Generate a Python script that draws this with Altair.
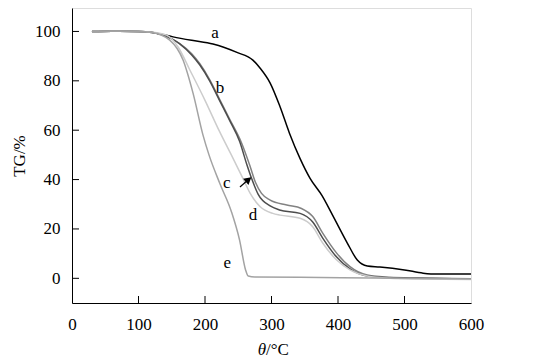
import altair as alt
import pandas as pd

# ---- data ----
a_x = [30, 60, 100, 120, 152, 180, 212, 248, 272, 283, 298, 313, 327, 343, 358, 376, 392, 414, 429, 444, 463, 500, 528, 549, 600]
a_y = [100, 100.1, 100, 99.6, 97.8, 96.4, 94.9, 91.5, 88.4, 85.1, 79.1, 69.4, 58.8, 48.5, 40.5, 33.5, 25.5, 14.3, 7.4, 5.0, 4.6, 3.4, 2.1, 1.7, 1.7]

b_x = [30, 60, 100, 120, 137, 162, 180, 192, 207, 222, 237, 255, 268, 276, 285, 298, 323, 345, 362, 377, 398, 418, 444, 478, 520, 600]
b_y = [100, 100.1, 100, 99.7, 98.5, 95.1, 91.0, 87.0, 80.5, 72.5, 64.5, 54.8, 45.2, 38.8, 34.4, 31.7, 29.7, 28.3, 25.0, 18.3, 10.2, 4.7, 1.3, 0.4, 0.1, -0.2]

c_x = [30, 60, 100, 120, 137, 162, 180, 192, 207, 222, 237, 252, 263, 270, 280, 298, 312, 343, 362, 377, 398, 418, 444, 478, 520, 600]
c_y = [100, 100.1, 100, 99.7, 98.5, 95.0, 90.5, 86.5, 80.0, 72.0, 64.0, 55.5, 46.0, 40.5, 34.0, 29.3, 27.7, 26.3, 22.8, 16.3, 8.6, 3.8, 0.9, 0.2, 0.0, -0.3]

d_x = [30, 60, 100, 120, 142, 160, 177, 200, 222, 242, 257, 268, 283, 302, 313, 343, 362, 377, 398, 418, 444, 478, 520, 600]
d_y = [100, 100.1, 100, 99.7, 98.5, 93.5, 84.5, 72.1, 59.4, 48.7, 40.5, 34.4, 29.0, 26.3, 25.6, 24.3, 20.9, 14.3, 7.4, 3.4, 0.9, 0.0, -0.3, -0.5]

e_x = [30, 60, 100, 120, 147, 167, 182, 197, 206, 222, 240, 252, 261, 265, 275, 343, 450, 600]
e_y = [100, 100.1, 100, 99.6, 96.5, 88.4, 75.0, 58.0, 50.0, 38.6, 26.8, 15.5, 3.4, 0.9, 0.5, 0.4, 0.1, -0.3]

series_names = ["a", "b", "c", "d", "e"]
series_colors = ["#000000", "#828282", "#4d4d4d", "#cccccc", "#a3a3a3"]

label_text = ["a", "b", "c", "d", "e"]
label_x = [215, 222.6, 232.6, 272, 233.6]
label_y = [99.3, 77.0, 38.7, 25.6, 6.3]

arrow_x = [252.6]
arrow_y = [37.0]
arrow_x2 = [262.0]
arrow_y2 = [39.2]
head_x = [265.5]
head_y = [40.0]

x_tick_values = [0, 100, 200, 300, 400, 500, 600]
x_inner_ticks = [100, 200, 300, 400, 500]
y_tick_values = [0, 20, 40, 60, 80, 100]

FONT = "Liberation Serif, Times New Roman, Times, DejaVu Serif, serif"
W, H = 399, 295

rows = []
for name, xs_, ys_ in zip(series_names, [a_x, b_x, c_x, d_x, e_x], [a_y, b_y, c_y, d_y, e_y]):
    for xv, yv in zip(xs_, ys_):
        rows.append({"series": name, "T": xv, "TG": yv})
df = pd.DataFrame(rows)

xscale = alt.Scale(domain=[0, 600], nice=False, zero=False)
yscale = alt.Scale(domain=[-10, 109.5], nice=False, zero=False)

lines = alt.Chart(df).mark_line(strokeWidth=1.5, interpolate="monotone").encode(
    x=alt.X("T:Q", scale=xscale,
            axis=alt.Axis(values=x_tick_values, title=None, ticks=False, grid=False,
                          labelFont=FONT, labelFontSize=17, labelColor="#000",
                          labelPadding=13, domainColor="#000", labelFlush=False)),
    y=alt.Y("TG:Q", scale=yscale,
            axis=alt.Axis(values=y_tick_values, title="TG/%", ticks=False, grid=False,
                          labelFont=FONT, labelFontSize=17, labelColor="#000",
                          labelPadding=12, domainColor="#000",
                          titleFont=FONT, titleFontSize=17, titleFontWeight="normal",
                          titleColor="#000", titlePadding=6)),
    color=alt.Color("series:N", scale=alt.Scale(domain=series_names, range=series_colors), legend=None),
    order=alt.Order("T:Q"),
)

labels = alt.Chart(pd.DataFrame({"t": label_text, "x": label_x, "y": label_y})).mark_text(
    font=FONT, fontSize=17, color="#000", align="center", baseline="middle"
).encode(x=alt.X("x:Q", scale=xscale), y=alt.Y("y:Q", scale=yscale), text="t:N")

arrow = alt.Chart(pd.DataFrame({"x": arrow_x, "y": arrow_y, "x2": arrow_x2, "y2": arrow_y2})).mark_rule(
    color="#000", strokeWidth=1.2
).encode(x=alt.X("x:Q", scale=xscale), y=alt.Y("y:Q", scale=yscale), x2="x2:Q", y2="y2:Q")

head = alt.Chart(pd.DataFrame({"x": head_x, "y": head_y})).mark_point(
    shape="triangle-up", filled=True, color="#000", size=70, angle=50, opacity=1
).encode(x=alt.X("x:Q", scale=xscale), y=alt.Y("y:Q", scale=yscale))

xticks = alt.Chart(pd.DataFrame({"v": x_inner_ticks})).mark_rule(color="#000", strokeWidth=1).encode(
    x=alt.X("v:Q", scale=xscale), y=alt.value(H), y2=alt.value(H - 7)
)
yticks = alt.Chart(pd.DataFrame({"v": y_tick_values})).mark_rule(color="#000", strokeWidth=1).encode(
    y=alt.Y("v:Q", scale=yscale), x=alt.value(0), x2=alt.value(7)
)

title_theta = alt.Chart(pd.DataFrame({"t": ["θ"]})).mark_text(
    font=FONT, fontSize=17, fontStyle="italic", align="right", baseline="alphabetic", color="#000"
).encode(x=alt.value(194), y=alt.value(347), text="t:N")
title_rest = alt.Chart(pd.DataFrame({"t": ["/°C"]})).mark_text(
    font=FONT, fontSize=17, align="left", baseline="alphabetic", color="#000"
).encode(x=alt.value(194), y=alt.value(347), text="t:N")

chart = alt.layer(lines, labels, arrow, head, xticks, yticks, title_theta, title_rest).properties(
    width=W, height=H,
    autosize=alt.AutoSizeParams(type="none"),
    padding={"left": 64, "top": 0, "right": 62, "bottom": 56},
).configure_view(stroke="#555", strokeWidth=1).configure(background="white", font=FONT)

chart.save("out.html", embed_options={"renderer": "svg", "actions": False})
